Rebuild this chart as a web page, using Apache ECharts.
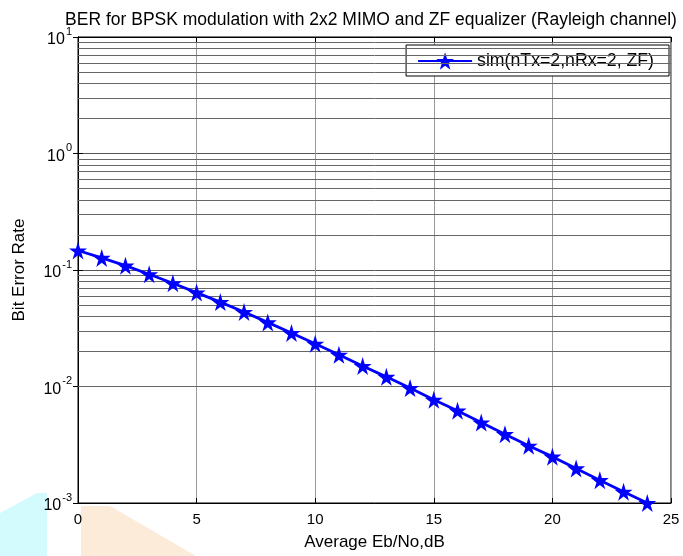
<!DOCTYPE html>
<html>
<head>
<meta charset="utf-8">
<script src="https://cdn.jsdelivr.net/npm/echarts@6/dist/echarts.min.js"></script>
<style>
  html, body { margin: 0; padding: 0; background: #fff; }
  #chart { width: 683px; height: 556px; }
</style>
</head>
<body>
<div id="chart"></div>
<script>
// Eb/No (dB) and simulated BER
const ebNo = [0, 1, 2, 3, 4, 5, 6, 7, 8, 9, 10, 11, 12, 13, 14, 15, 16, 17, 18, 19, 20, 21, 22, 23, 24];
const ber = [0.147, 0.127, 0.109, 0.092, 0.077, 0.064, 0.053, 0.0436, 0.0355, 0.0288,
  0.0233, 0.0187, 0.0150, 0.0121, 0.0097, 0.0077, 0.0062, 0.0049, 0.0039, 0.0031,
  0.0025, 0.00198, 0.00157, 0.00125, 0.001];
const xTicks = [0, 5, 10, 15, 20, 25];
const yDecades = [0.001, 0.01, 0.1, 1, 10];
const seriesName = "sim(nTx=2,nRx=2, ZF)";

// minor grid lines at 2..9 inside each decade
const minorY = [];
for (let d = 0; d < yDecades.length - 1; d++) {
  for (let k = 2; k <= 9; k++) minorY.push(+(yDecades[d] * k).toPrecision(3));
}

const star = "path://M50,0 L61,35 L98,35 L68,57 L79,91 L50,70 L21,91 L32,57 L2,35 L39,35 Z";
const font = "Liberation Sans, Arial, sans-serif";

const expLabel = (v) => {
  const e = Math.round(Math.log10(v));
  return "{b|10}{s|" + e + "}";
};

const chart = echarts.init(document.getElementById("chart"));
chart.setOption({
  animation: false,
  title: {
    text: "BER for BPSK modulation with 2x2 MIMO and ZF equalizer (Rayleigh channel)",
    left: 366,
    top: 6,
    textAlign: "center",
    textStyle: { fontFamily: font, fontSize: 17.5, fontWeight: "normal", color: "#000" }
  },
  grid: { left: 78, right: 12, top: 37, bottom: 51, show: true, borderColor: "#000", borderWidth: 1 },
  legend: {
    right: 14,
    top: 45,
    orient: "vertical",
    backgroundColor: "#fff",
    borderColor: "#000",
    borderWidth: 1,
    borderRadius: 0,
    padding: [7, 15, 6, 11],
    itemWidth: 54,
    itemHeight: 22,
    itemGap: 4,
    textStyle: { fontFamily: font, fontSize: 17.7, color: "#000" },
    data: [seriesName]
  },
  xAxis: [
    {
      type: "value",
      min: 0, max: 25, interval: 5,
      name: "Average Eb/No,dB",
      nameLocation: "middle",
      nameGap: 31,
      nameTextStyle: { fontFamily: font, fontSize: 17, color: "#000" },
      axisLine: { lineStyle: { color: "#000" } },
      axisTick: { inside: true, length: 5, lineStyle: { color: "#000" } },
      axisLabel: { fontFamily: font, fontSize: 15, color: "#000", margin: 9 },
      splitLine: { show: true, lineStyle: { color: "#999", width: 1 } }
    },
    {
      type: "value",
      position: "top",
      min: 0, max: 25, interval: 5,
      axisLine: { lineStyle: { color: "#000" } },
      axisTick: { inside: true, length: 5, lineStyle: { color: "#000" } },
      axisLabel: { show: false },
      splitLine: { show: false }
    }
  ],
  yAxis: [
    {
      type: "log",
      logBase: 10,
      min: 0.001, max: 10,
      name: "Bit Error Rate",
      nameLocation: "middle",
      nameGap: 50,
      nameTextStyle: { fontFamily: font, fontSize: 17, color: "#000" },
      axisLine: { lineStyle: { color: "#000" } },
      axisTick: { inside: true, length: 5, lineStyle: { color: "#000" } },
      axisLabel: {
        formatter: expLabel,
        margin: 6,
        rich: {
          b: { fontFamily: font, fontSize: 16, color: "#000", padding: [6, 0, 0, 0] },
          s: { fontFamily: font, fontSize: 11, color: "#000", padding: [0, 0, 8, 1], verticalAlign: "top" }
        }
      },
      splitLine: { show: true, lineStyle: { color: "#555", width: 1 } }
    },
    {
      type: "log",
      logBase: 10,
      min: 0.001, max: 10,
      position: "right",
      axisLine: { show: true, lineStyle: { color: "#000" } },
      axisTick: { inside: true, length: 5, lineStyle: { color: "#000" } },
      axisLabel: { show: false },
      splitLine: { show: false }
    }
  ],
  series: [
    {
      name: seriesName,
      type: "line",
      clip: false,
      data: ebNo.map((x, i) => [x, ber[i]]),
      color: "#0000ff",
      lineStyle: { width: 2.8, color: "#0000ff" },
      symbol: star,
      symbolSize: 18,
      itemStyle: { color: "#0000ff" },
      z: 5,
      markLine: {
        silent: true,
        symbol: "none",
        label: { show: false },
        animation: false,
        lineStyle: { color: "#666", width: 1, type: "solid" },
        data: minorY.map((v) => ({ yAxis: v }))
      }
    }
  ],
  graphic: [
    {
      type: "polygon",
      z: -10,
      shape: { points: [[0, 513], [37, 493], [47, 493], [47, 556], [0, 556]] },
      style: { fill: "#d3fafd" }
    },
    {
      type: "polygon",
      z: -10,
      shape: { points: [[81, 506], [110, 506], [196, 556], [81, 556]] },
      style: { fill: "#fdebd9" }
    }
  ]
});
</script>
</body>
</html>
